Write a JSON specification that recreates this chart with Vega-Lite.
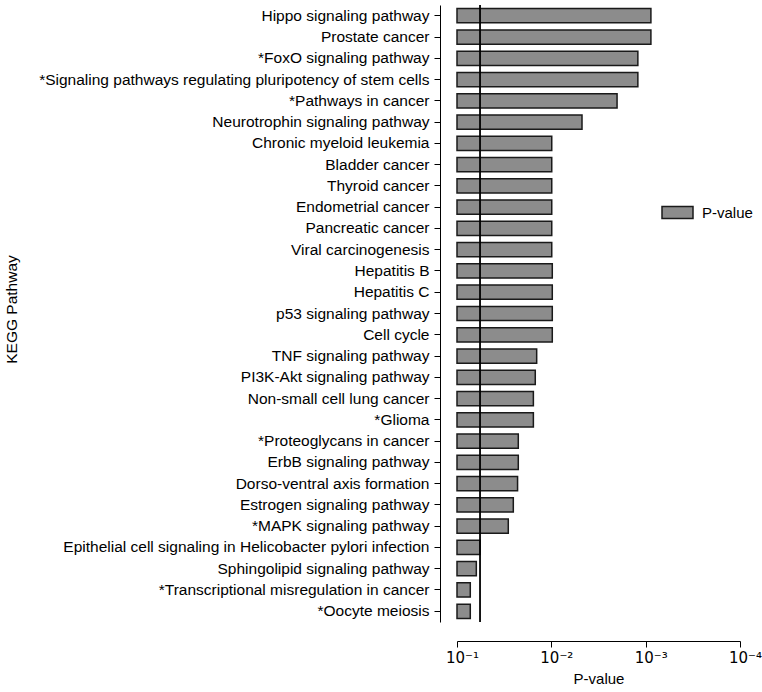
{
  "$schema": "https://vega.github.io/schema/vega-lite/v6.json",
  "width": 283,
  "height": 617,
  "autosize": {"type": "none"},
  "padding": {"left": 457, "top": 5, "right": 22, "bottom": 70},
  "config": {
    "view": {"stroke": null},
    "font": "Liberation Sans",
    "axis": {"labelColor": "#000", "titleColor": "#000", "domainColor": "#000", "tickColor": "#000", "grid": false, "titleFontWeight": "normal", "labelFont": "Liberation Sans", "titleFont": "Liberation Sans"}
  },
  "datasets": {
    "pathways": [
      {"pathway": "Hippo signaling pathway", "p": 0.00088},
      {"pathway": "Prostate cancer", "p": 0.00088},
      {"pathway": "*FoxO signaling pathway", "p": 0.00121},
      {"pathway": "*Signaling pathways regulating pluripotency of stem cells", "p": 0.00121},
      {"pathway": "*Pathways in cancer", "p": 0.00201},
      {"pathway": "Neurotrophin signaling pathway", "p": 0.00473},
      {"pathway": "Chronic myeloid leukemia", "p": 0.0099},
      {"pathway": "Bladder cancer", "p": 0.0099},
      {"pathway": "Thyroid cancer", "p": 0.0099},
      {"pathway": "Endometrial cancer", "p": 0.0099},
      {"pathway": "Pancreatic cancer", "p": 0.0099},
      {"pathway": "Viral carcinogenesis", "p": 0.0099},
      {"pathway": "Hepatitis B", "p": 0.00977},
      {"pathway": "Hepatitis C", "p": 0.00977},
      {"pathway": "p53 signaling pathway", "p": 0.00977},
      {"pathway": "Cell cycle", "p": 0.00977},
      {"pathway": "TNF signaling pathway", "p": 0.0143},
      {"pathway": "PI3K-Akt signaling pathway", "p": 0.0148},
      {"pathway": "Non-small cell lung cancer", "p": 0.0155},
      {"pathway": "*Glioma", "p": 0.0155},
      {"pathway": "*Proteoglycans in cancer", "p": 0.0224},
      {"pathway": "ErbB signaling pathway", "p": 0.0224},
      {"pathway": "Dorso-ventral axis formation", "p": 0.0228},
      {"pathway": "Estrogen signaling pathway", "p": 0.0253},
      {"pathway": "*MAPK signaling pathway", "p": 0.0286},
      {"pathway": "Epithelial cell signaling in Helicobacter pylori infection", "p": 0.057},
      {"pathway": "Sphingolipid signaling pathway", "p": 0.0624},
      {"pathway": "*Transcriptional misregulation in cancer", "p": 0.0723},
      {"pathway": "*Oocyte meiosis", "p": 0.0723}
    ],
    "threshold": [{"cutoff": 0.057}]
  },
  "layer": [
    {
      "data": {"name": "pathways"},
      "mark": {"type": "bar", "stroke": "#1a1a1a", "strokeWidth": 1.5},
      "encoding": {
        "y": {
          "field": "pathway", "type": "nominal", "sort": null,
          "scale": {"paddingInner": 0.33, "paddingOuter": 0.17},
          "axis": {"title": "KEGG Pathway", "titleFontSize": 15.5, "labelFontSize": 15.5, "offset": 17, "tickSize": 6, "labelPadding": 5, "labelLimit": 500, "titleX": -421, "titleY": 304, "titleAnchor": "middle", "titleAngle": -90, "titleBaseline": "bottom"}
        },
        "x": {
          "field": "p", "type": "quantitative",
          "scale": {"type": "log", "domain": [0.0001, 0.1], "reverse": true},
          "axis": {"title": "P-value", "titleFontSize": 15, "labelFontSize": 15, "labelFont": "DejaVu Sans", "labelFlush": false, "labelOffset": 5, "offset": 19, "tickSize": 6, "labelPadding": 3, "titlePadding": 6, "values": [0.1, 0.01, 0.001, 0.0001], "labelExpr": "datum.value >= 0.09 ? '10⁻¹' : datum.value >= 0.009 ? '10⁻²' : datum.value >= 0.0009 ? '10⁻³' : '10⁻⁴'"}
        },
        "x2": {"datum": 0.1},
        "color": {
          "datum": "P-value", "type": "nominal",
          "scale": {"range": ["#8c8c8c"]},
          "legend": {"title": null, "orient": "none", "legendX": 204, "legendY": 191, "labelFontSize": 15, "labelColor": "#000", "symbolType": "M-1,-0.39H1V0.39H-1Z", "symbolSize": 961, "symbolStrokeColor": "#1a1a1a", "symbolStrokeWidth": 1.5, "symbolOpacity": 1, "labelOffset": 8}
        }
      }
    },
    {
      "data": {"name": "threshold"},
      "mark": {"type": "rule", "color": "#000", "strokeWidth": 1.8},
      "encoding": {"x": {"field": "cutoff", "type": "quantitative"}}
    }
  ]
}
